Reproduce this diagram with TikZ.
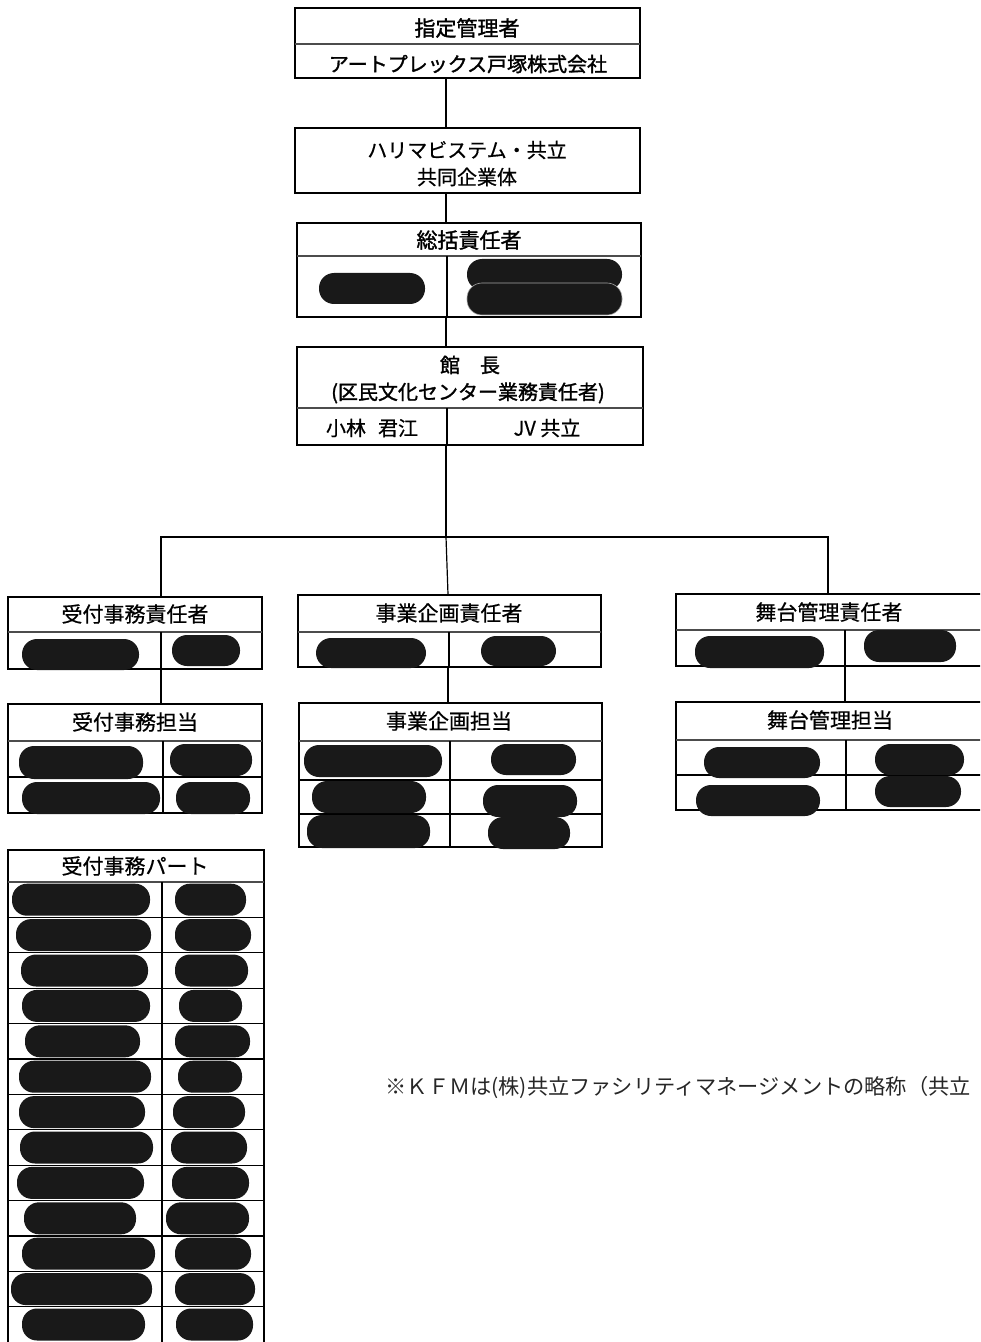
\documentclass[tikz,border=0pt]{standalone}
\usepackage{fontspec}
\setmainfont{Noto Sans CJK JP}
\newfontfamily\bodyfont{Noto Sans CJK JP}[FakeBold=0.6]
\newfontfamily\headfont{Noto Sans CJK JP}[FakeBold=1.5]
\usetikzlibrary{fit}

\begin{document}
\begin{tikzpicture}[x=0.5pt,y=-0.5pt,line width=0.6pt,
    box/.style={draw,inner sep=0pt},
    sep/.style={line width=1.1pt,black!70},
    pill/.style={fill=black!90,rounded corners=7.5pt},
    lbl/.style={font=\bodyfont\fontsize{10pt}{12pt}\selectfont,inner sep=0pt},
    head/.style={font=\headfont\fontsize{10pt}{12pt}\selectfont,inner sep=0pt},
    unit/.style={font=\bodyfont\fontsize{10.5pt}{12pt}\selectfont,inner sep=0pt}]
  \useasboundingbox (0,0) rectangle (980,1342);
  \clip (0,0) rectangle (980,1342);

  % spine and branch columns
  \coordinate (sx) at (446,0);
  \coordinate (ukx) at (161,0);
  \coordinate (jgx) at (448,0);
  \coordinate (btx) at (845,0);
  \coordinate (bus) at (446,537);

  % top part
  \node[box,fit={(295,8) (640,78)}] (shitei) {};
  \draw[sep] (295,44) -- (640,44);
  \node[head,font=\headfont\fontsize{10.5pt}{12pt}\selectfont] (shitei-t) at (467,28) {指定管理者};
  \node[head] (shitei-n) at (468,64) {アートプレックス戸塚株式会社};

  \node[box,fit={(295,128) (640,193)}] (jv) {};
  \node[lbl] (jv-a) at (467,150) {ハリマビステム・共立};
  \node[lbl] (jv-b) at (467,177) {共同企業体};

  \node[box,fit={(297,223) (641,317)}] (sokatsu) {};
  \draw[sep] (297,256) -- (641,256);
  \draw (447,256) -- (447,317);
  \node[head,font=\headfont\fontsize{10.5pt}{12pt}\selectfont] (sokatsu-t) at (469,240) {総括責任者};
  \fill[pill] (319,273) rectangle (425,304);
  \fill[pill] (467,259) rectangle (622,290);
  \fill[pill,draw=gray!70,line width=0.3pt] (467,283) rectangle (622,315);

  \node[box,fit={(297,347) (643,445)}] (kancho) {};
  \draw[sep] (297,408) -- (643,408);
  \draw (447,408) -- (447,445);
  \node[head] (kancho-t) at (470,365) {館　長};
  \node[head] (kancho-s) at (468,393) {(区民文化センター業務責任者)};
  \node[lbl] (kancho-l) at (372,428) {小林\hspace{0.6em}君江};
  \node[lbl] (kancho-r) at (547,428) {JV 共立};

  \draw (shitei.south -| sx) -- (jv.north -| sx);
  \draw (jv.south -| sx) -- (sokatsu.north -| sx);
  \draw (sokatsu.south -| sx) -- (kancho.north -| sx);
  \draw (kancho.south -| sx) -- (bus);

  % 受付事務
  \node[box,fit={(8,597) (262,669)}] (uk1) {};
  \draw[sep] (8,632) -- (262,632);
  \draw (161,632) -- (161,669);
  \node[unit] (uk1-t) at (135,614) {受付事務責任者};
  \fill[pill] (22,639) rectangle (139,670);
  \fill[pill] (172,635) rectangle (240,666);

  \node[box,fit={(8,704) (262,813)}] (uk2) {};
  \draw[sep] (8,741) -- (262,741);
  \draw (8,777) -- (262,777);
  \draw (163,741) -- (163,813);
  \node[unit] (uk2-t) at (135,722) {受付事務担当};
  \fill[pill] (19,746) rectangle (143,779);
  \fill[pill] (170,744) rectangle (252,776);
  \fill[pill] (22,782) rectangle (160,814);
  \fill[pill] (176,782) rectangle (250,814);

  \node[box,fit={(8,850) (264,1360)}] (part) {};
  \draw[sep] (8,882) -- (264,882);
  \draw (162,882) -- (162,1360);
  \node[unit] (part-t) at (135,866) {受付事務パート};
  \foreach \i in {1,...,12}
    \draw (8,882+35.4*\i) -- (264,882+35.4*\i);
  \foreach \la/\lb/\ra/\rb [count=\i] in {12/150/175/246, 16/151/175/251,
      21/148/175/248, 22/150/179/242, 25/140/175/250, 19/151/178/242,
      19/145/173/245, 20/153/171/247, 17/144/172/249, 24/136/166/249,
      22/155/175/251, 11/152/175/255, 22/145/176/253} {
    \fill[pill] (\la,864.3+35.4*\i-16) rectangle (\lb,864.3+35.4*\i+16);
    \fill[pill] (\ra,864.3+35.4*\i-16) rectangle (\rb,864.3+35.4*\i+16);
  }

  % 事業企画
  \node[box,fit={(298,595) (601,667)}] (jg1) {};
  \draw[sep] (298,632) -- (601,632);
  \draw (449,632) -- (449,667);
  \node[unit] (jg1-t) at (449,613) {事業企画責任者};
  \fill[pill] (316,638) rectangle (426,668);
  \fill[pill] (481,636) rectangle (556,666);

  \node[box,fit={(299,703) (602,847)}] (jg2) {};
  \draw[sep] (299,741) -- (602,741);
  \draw (299,780) -- (602,780);
  \draw (299,814) -- (602,814);
  \draw (450,741) -- (450,847);
  \node[unit] (jg2-t) at (449,721) {事業企画担当};
  \fill[pill] (304,745) rectangle (442,777);
  \fill[pill] (491,744) rectangle (576,775);
  \fill[pill] (312,781) rectangle (426,813);
  \fill[pill] (483,785) rectangle (577,817);
  \fill[pill] (307,815) rectangle (430,848);
  \fill[pill] (488,817) rectangle (570,849);

  % 舞台管理
  \node[box,fit={(676,594) (995,666)}] (bt1) {};
  \draw[sep] (676,630) -- (995,630);
  \draw (845,630) -- (845,666);
  \node[unit] (bt1-t) at (829,612) {舞台管理責任者};
  \fill[pill] (695,636) rectangle (824,668);
  \fill[pill] (864,630) rectangle (956,662);

  \node[box,fit={(676,702) (995,810)}] (bt2) {};
  \draw[sep] (676,740) -- (995,740);
  \draw (676,775) -- (995,775);
  \draw (846,740) -- (846,810);
  \node[unit] (bt2-t) at (830,720) {舞台管理担当};
  \fill[pill] (704,747) rectangle (820,778);
  \fill[pill] (875,744) rectangle (964,775);
  \fill[pill] (696,785) rectangle (820,816);
  \fill[pill] (875,776) rectangle (961,807);

  % branches
  \coordinate (bx) at (828,0);
  \draw (uk1.north -| ukx) -- (ukx |- bus) -- (bx |- bus) -- (bt1.north -| bx);
  \draw (bus) -- (jg1.north -| jgx);
  \draw (uk1.south -| ukx) -- (uk2.north -| ukx);
  \draw (jg1.south -| jgx) -- (jg2.north -| jgx);
  \draw (bt1.south -| btx) -- (bt2.north -| btx);

  \node[lbl,anchor=west,text=black!85,font=\fontsize{10.6pt}{12pt}\selectfont] (note) at (385,1087)
    {※ＫＦＭは(株)共立ファシリティマネージメントの略称（共立};
\end{tikzpicture}
\end{document}
